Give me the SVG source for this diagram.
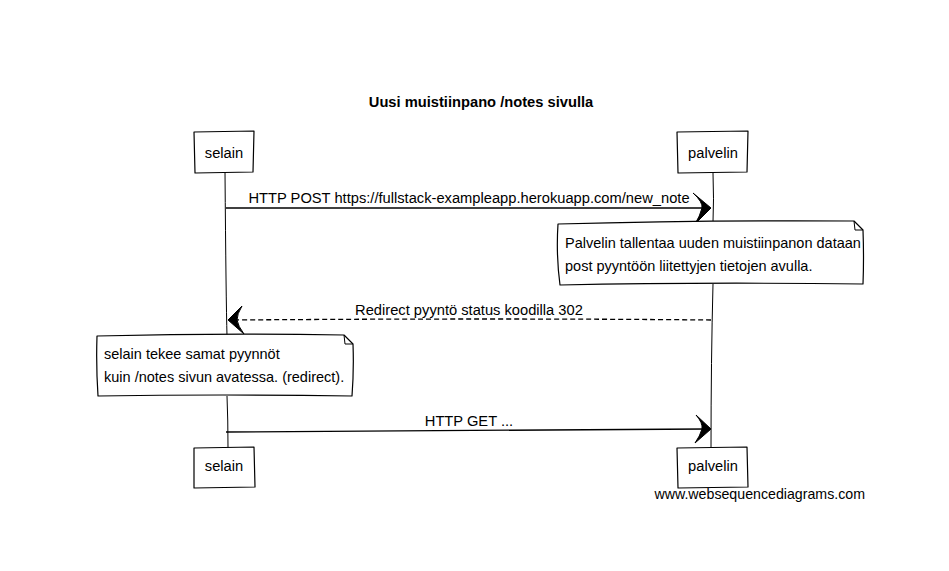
<svg xmlns="http://www.w3.org/2000/svg" width="949" height="571" viewBox="0 0 949 571">
<style>
.t{font-family:"Liberation Sans",Arial,sans-serif;font-size:14.7px;fill:#000}
.n{font-size:14.5px}
.f{font-size:14.2px}
.box{fill:#fff;stroke:#000;stroke-width:1.2;stroke-linejoin:round}
.life{fill:none;stroke:#000;stroke-width:1}
.msg{fill:none;stroke:#000;stroke-width:1.3}
.dash{stroke-dasharray:5,3}
.head{fill:#000;stroke:#000;stroke-width:1;stroke-linejoin:round}
</style>
<rect width="949" height="571" fill="#fff"/>
<text class="t" x="481" y="107" text-anchor="middle" font-weight="bold">Uusi muistiinpano /notes sivulla</text>

<g id="lifelines">
<path class="life" d="M225 172 Q226 300 227 336 M227 396 Q228 420 228 448"/>
<path class="life" d="M713 173 Q714 200 713 222 M713 284 Q711 360 711 450"/>
</g>

<g id="selain-top">
<path class="box" d="M194 132 L254 131 L253 172 L195 173 Z"/>
<text class="t" x="224" y="158" text-anchor="middle">selain</text>
</g>
<g id="palvelin-top">
<path class="box" d="M677 132 L748 131 L747 172 L678 173 Z"/>
<text class="t" x="713" y="158" text-anchor="middle">palvelin</text>
</g>

<g id="connectors">
<path class="msg" d="M226 208 Q470 207 706 208"/>
<path class="head" d="M711 208 L693 193 Q703 202 702 208 Q700 216 695 224 Z"/>
<text class="t" x="469" y="203" text-anchor="middle">HTTP POST https://fullstack-exampleapp.herokuapp.com/new_note</text>

<path class="msg dash" d="M711 320 Q500 318 234 320"/>
<path class="head" d="M228 320 L242 306 Q237 314 237 320 Q238 326 244 334 Z"/>
<text class="t" x="469" y="315" text-anchor="middle">Redirect pyyntö status koodilla 302</text>

<path class="msg" d="M226 432 Q470 430 705 429"/>
<path class="head" d="M711 429 L696 415 Q703 423 702 429 Q700 436 695 443 Z"/>
<text class="t" x="469" y="426" text-anchor="middle">HTTP GET ...</text>
</g>

<g id="note1">
<path class="box" d="M558 224 Q700 220 854 221 L863 230 Q864 258 863 284 Q700 282 560 285 Q556 255 558 224 Z"/>
<path class="life" d="M854 221 L855 230 L863 230"/>
<text class="t n" x="565" y="248">Palvelin tallentaa uuden muistiinpanon dataan</text>
<text class="t n" x="565" y="271">post pyyntöön liitettyjen tietojen avulla.</text>
</g>

<g id="note2">
<path class="box" d="M97 336 Q220 333 344 335 L353 344 Q354 370 352 396 Q220 394 98 396 Q96 366 97 336 Z"/>
<path class="life" d="M344 335 L345 344 L353 344"/>
<text class="t n" x="104" y="359">selain tekee samat pyynnöt</text>
<text class="t n" x="104" y="382">kuin /notes sivun avatessa. (redirect).</text>
</g>

<g id="selain-bottom">
<path class="box" d="M194 448 L254 447 L255 487 L194 488 Z"/>
<text class="t" x="224" y="471" text-anchor="middle">selain</text>
</g>
<g id="palvelin-bottom">
<path class="box" d="M677 448 L747 447 L748 487 L678 488 Z"/>
<text class="t" x="713" y="471" text-anchor="middle">palvelin</text>
</g>

<text class="t f" x="865" y="499" text-anchor="end">www.websequencediagrams.com</text>
</svg>
